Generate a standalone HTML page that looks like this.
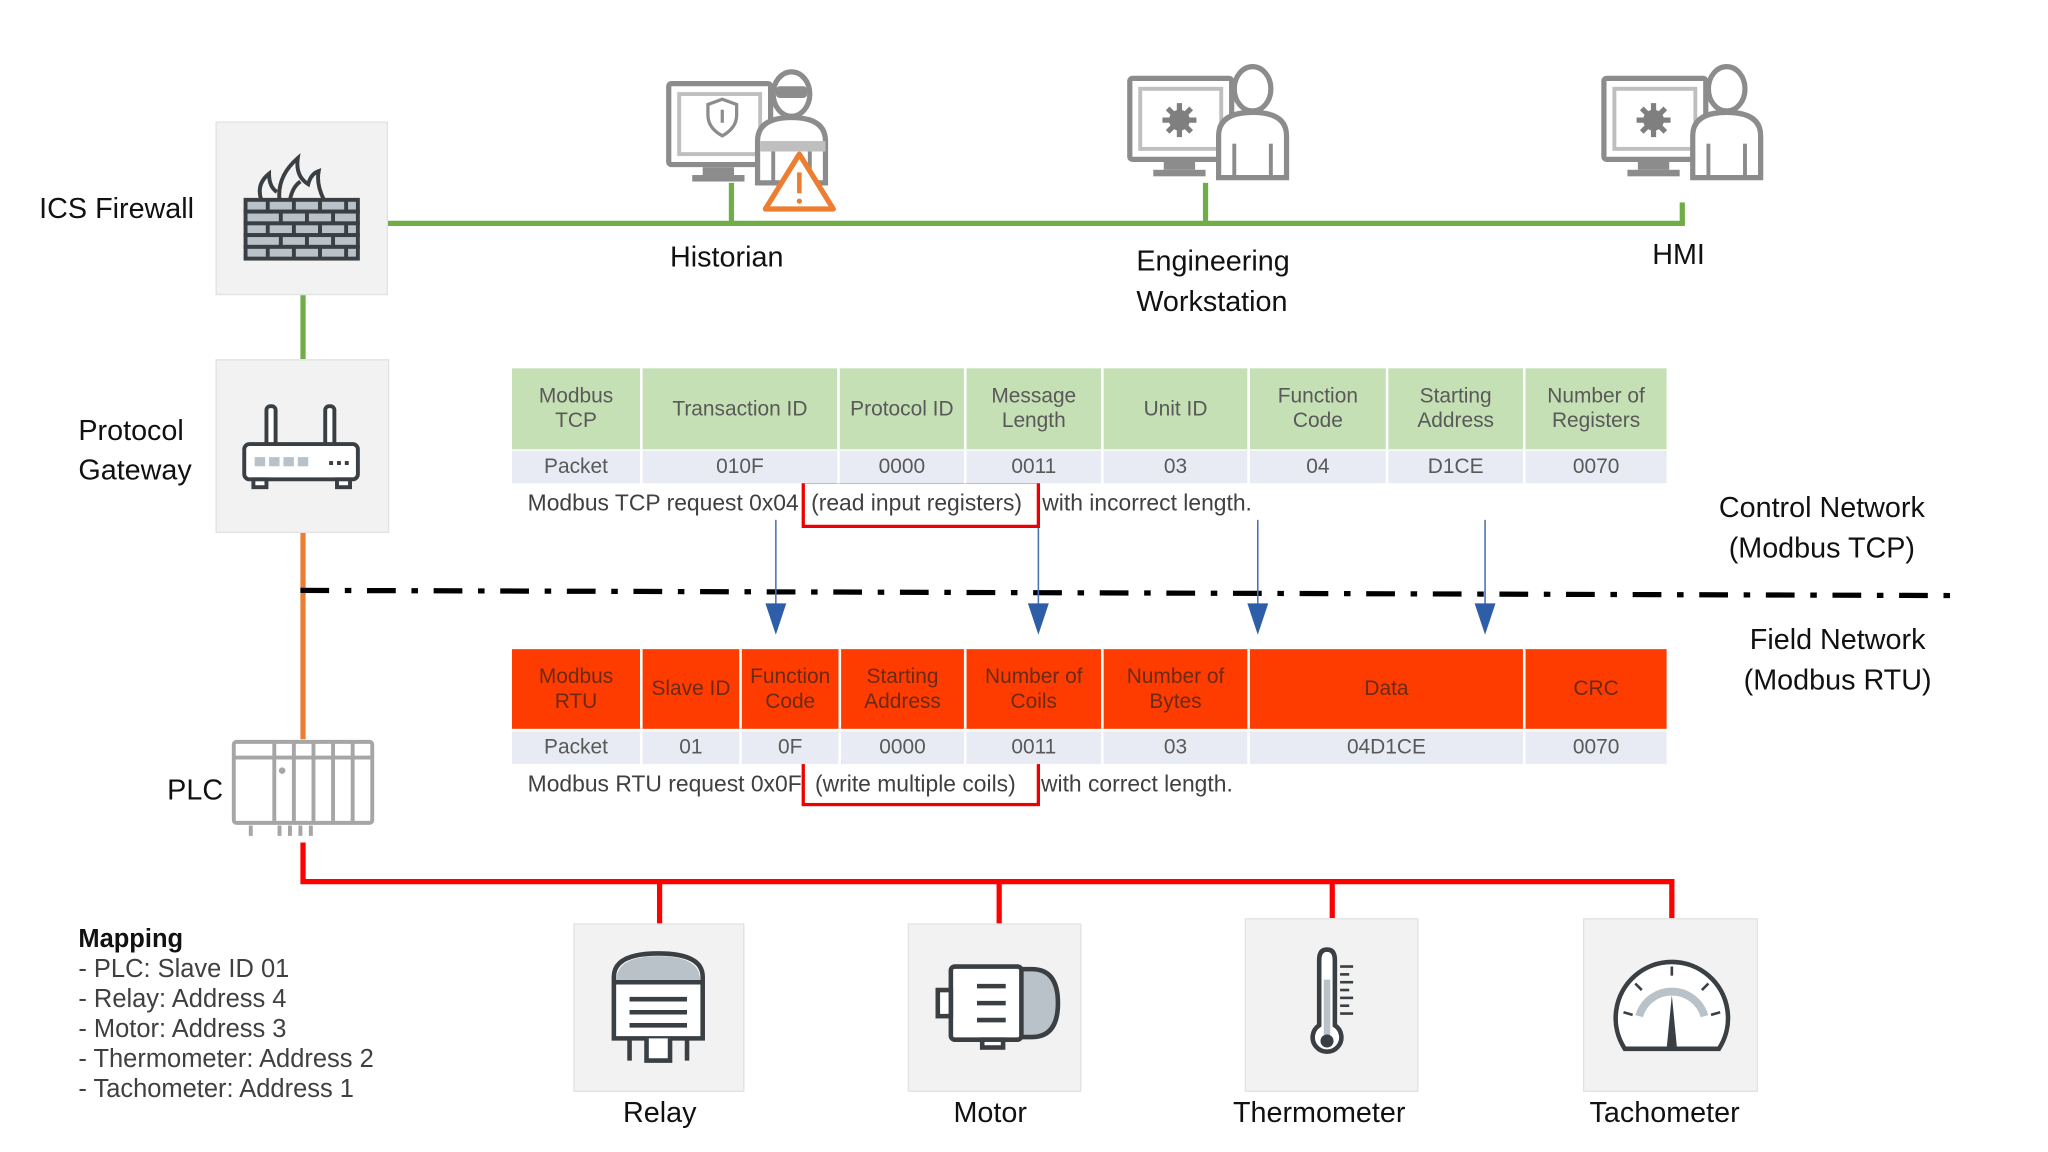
<!DOCTYPE html>
<html><head><meta charset="utf-8"><style>
html,body{margin:0;padding:0;background:#fff;width:2048px;height:1152px;overflow:hidden}
#s{position:absolute;left:0;top:0;width:1568px;height:882px;transform:scale(1.306122);transform-origin:0 0;font-family:"Liberation Sans","DejaVu Sans",sans-serif}
.t{position:absolute;white-space:nowrap}
.c{position:absolute;display:flex;align-items:center;justify-content:center;text-align:center;font-size:16px;line-height:19px;box-sizing:border-box;border-right:2px solid #fff}
.g{background:#c5e0b4;color:#595959}
.r{background:#ff3c00;color:#6a2a15}
.p{background:#e9ebf4;color:#595959}
.box{position:absolute;background:#f2f2f2;border:1px solid #e2e2e2;box-sizing:border-box}
.cap{position:absolute;white-space:nowrap;font-size:17.5px;color:#404040}
</style></head><body><div id="s">
<svg width="1568" height="882" style="position:absolute;left:0;top:0">
<g stroke="#70ad47" stroke-width="4" fill="none">
<line x1="297" y1="171" x2="1290" y2="171"/>
<line x1="560" y1="140" x2="560" y2="171"/>
<line x1="923" y1="140" x2="923" y2="171"/>
<line x1="1288" y1="155" x2="1288" y2="171"/>
<line x1="232" y1="225" x2="232" y2="275"/>
</g>
<line x1="232" y1="408" x2="232" y2="566" stroke="#ed7d31" stroke-width="4"/>
<g stroke="#ff0000" stroke-width="4" fill="none">
<polyline points="232,645 232,675 1280,675 1280,705"/>
<line x1="505" y1="675" x2="505" y2="707"/>
<line x1="765" y1="675" x2="765" y2="707"/>
<line x1="1020" y1="675" x2="1020" y2="703"/>
</g>
<line x1="230" y1="452" x2="1500" y2="456" stroke="#000" stroke-width="4" stroke-dasharray="22,12,5,12"/>
<g stroke="#4a72b8" stroke-width="1.2" fill="#2f5ea8">
<line x1="594" y1="398" x2="594" y2="465"/><polygon points="586,462 602,462 594,486" stroke="none"/>
<line x1="795" y1="398" x2="795" y2="465"/><polygon points="787,462 803,462 795,486" stroke="none"/>
<line x1="963" y1="398" x2="963" y2="465"/><polygon points="955,462 971,462 963,486" stroke="none"/>
<line x1="1137" y1="398" x2="1137" y2="465"/><polygon points="1129,462 1145,462 1137,486" stroke="none"/>
</g>
<rect x="615" y="369" width="180" height="34" fill="none" stroke="#e00" stroke-width="2.5"/>
<rect x="615" y="583" width="180" height="33" fill="none" stroke="#e00" stroke-width="2.5"/>
</svg>

<div class="box" style="left:165px;top:93px;width:132px;height:133px"></div>
<div class="box" style="left:165px;top:275px;width:133px;height:133px"></div>
<div class="box" style="left:439px;top:707px;width:131px;height:129px"></div>
<div class="box" style="left:695px;top:707px;width:133px;height:129px"></div>
<div class="box" style="left:953px;top:703px;width:133px;height:133px"></div>
<div class="box" style="left:1212px;top:703px;width:134px;height:133px"></div>

<svg width="1568" height="882" style="position:absolute;left:0;top:0">
<!-- firewall -->
<g stroke="#3a3f44" stroke-width="3" fill="none">
<path d="M200,153 q-4,-12 6,-20 q0,10 6,14 M214,153 q-2,-18 14,-32 q-2,14 8,20 q2,-8 8,-10 q-2,10 4,22 M222,153 q2,-10 8,-14"/>
<g fill="#b8c2c8">
<rect x="188" y="153" width="86" height="9"/><rect x="188" y="162" width="86" height="9"/><rect x="188" y="171" width="86" height="9"/><rect x="188" y="180" width="86" height="9"/><rect x="188" y="189" width="86" height="9"/>
</g>
<path d="M205,153v9 M225,153v9 M245,153v9 M265,153v9 M215,162v9 M235,162v9 M255,162v9 M205,171v9 M225,171v9 M245,171v9 M265,171v9 M215,180v9 M235,180v9 M255,180v9 M205,189v9 M225,189v9 M245,189v9 M265,189v9"/>
</g>
<!-- router -->
<g stroke="#3a3f44" stroke-width="3" fill="#fff">
<rect x="204" y="311" width="7" height="30" rx="3"/><rect x="249" y="311" width="7" height="30" rx="3"/>
<rect x="187" y="340" width="87" height="27" rx="4"/>
<rect x="194" y="367" width="10" height="6"/><rect x="258" y="367" width="10" height="6"/>
</g>
<g fill="#b8c2c8"><rect x="195" y="350" width="8" height="7"/><rect x="206" y="350" width="8" height="7"/><rect x="217" y="350" width="8" height="7"/><rect x="228" y="350" width="8" height="7"/></g>
<g fill="#3a3f44"><rect x="252" y="353" width="3" height="3"/><rect x="258" y="353" width="3" height="3"/><rect x="264" y="353" width="3" height="3"/></g>
<!-- PLC -->
<g stroke="#a6a6a6" stroke-width="3" fill="#fff">
<rect x="179" y="568" width="106" height="62" rx="2"/>
<line x1="179" y1="580" x2="285" y2="580"/>
<line x1="210" y1="568" x2="210" y2="630"/><line x1="225" y1="568" x2="225" y2="630"/><line x1="240" y1="568" x2="240" y2="630"/><line x1="255" y1="568" x2="255" y2="630"/><line x1="270" y1="568" x2="270" y2="630"/>
<path d="M192,632v8 M214,632v8 M222,632v8 M230,632v8 M238,632v8" />
</g>
<circle cx="216" cy="590" r="2.5" fill="#a6a6a6"/>
<defs>
<g id="ws">
<rect x="2" y="12" width="78" height="62" rx="2" fill="#fff" stroke="#8c8c8c" stroke-width="4"/>
<rect x="10" y="20" width="62" height="46" fill="none" stroke="#bfbfbf" stroke-width="3"/>
<rect x="28" y="76" width="24" height="6" fill="#8c8c8c"/><rect x="20" y="82" width="40" height="5" fill="#8c8c8c"/>
<path d="M70,88 V56 Q70,38 96,38 Q122,38 122,56 V88 Z" fill="#fff" stroke="#8c8c8c" stroke-width="4"/>
<line x1="82" y1="62" x2="82" y2="88" stroke="#8c8c8c" stroke-width="3"/><line x1="110" y1="62" x2="110" y2="88" stroke="#8c8c8c" stroke-width="3"/>
<ellipse cx="96" cy="20" rx="14" ry="17" fill="#fff" stroke="#8c8c8c" stroke-width="4"/>
</g>
<g id="gear"><circle r="8" fill="#7f7f7f"/><path d="M0,-13V13M-13,0H13M-9,-9L9,9M9,-9L-9,9" stroke="#7f7f7f" stroke-width="4"/></g>
</defs>
<use href="#ws" x="863" y="48"/>
<use href="#gear" x="903" y="92"/>
<use href="#ws" x="1226" y="48"/>
<use href="#gear" x="1266" y="92"/>
<!-- historian -->
<use href="#ws" x="510" y="52"/>
<rect x="594" y="66" width="24" height="9" rx="3" fill="#8c8c8c"/>
<rect x="582" y="108" width="50" height="8" fill="#bfbfbf"/>
<path d="M553,76 l11,4 v8 q0,10 -11,16 q-11,-6 -11,-16 v-8z" fill="none" stroke="#8c8c8c" stroke-width="2.5"/>
<line x1="553" y1="84" x2="553" y2="94" stroke="#8c8c8c" stroke-width="2.5"/>
<path d="M612,118 L638,160 L586,160 Z" fill="#fff" stroke="#ed7d31" stroke-width="4" stroke-linejoin="round"/>
<line x1="612" y1="132" x2="612" y2="148" stroke="#ed7d31" stroke-width="3.5"/><circle cx="612" cy="154" r="2" fill="#ed7d31"/>
<!-- relay -->
<g stroke="#3a3f44" stroke-width="3.5" fill="#fff">
<path d="M470,795 V748 Q470,730 504,730 Q538,730 538,748 V795 Z"/>
<path d="M472,750 Q472,732 504,732 Q536,732 536,750 Z" fill="#b8c2c8" stroke="none"/>
<line x1="470" y1="752" x2="538" y2="752"/>
<line x1="482" y1="765" x2="526" y2="765"/><line x1="482" y1="775" x2="526" y2="775"/><line x1="482" y1="785" x2="526" y2="785"/>
<path d="M482,795 v17 M526,795 v17 M495,795 v17 h18 v-17"/>
</g>
<!-- motor -->
<g stroke="#3a3f44" stroke-width="3.5" fill="#fff">
<path d="M780,742 h10 q20,0 20,26 q0,26 -20,26 h-10 z" fill="#b8c2c8"/>
<rect x="728" y="740" width="54" height="56" rx="3"/>
<rect x="718" y="758" width="10" height="20"/>
<line x1="748" y1="755" x2="770" y2="755"/><line x1="748" y1="768" x2="770" y2="768"/><line x1="748" y1="781" x2="770" y2="781"/>
<rect x="752" y="796" width="16" height="6"/>
</g>
<!-- thermometer -->
<g stroke="#3a3f44" stroke-width="3.5" fill="#fff">
<path d="M1010,735 q0,-8 6,-8 q6,0 6,8 v50 a11,11 0 1 1 -12,0 z"/>
</g>
<line x1="1016" y1="750" x2="1016" y2="795" stroke="#b8c2c8" stroke-width="5"/>
<circle cx="1016" cy="797" r="5" fill="#3a3f44"/>
<g stroke="#3a3f44" stroke-width="2"><line x1="1026" y1="740" x2="1036" y2="740"/><line x1="1026" y1="746" x2="1033" y2="746"/><line x1="1026" y1="752" x2="1036" y2="752"/><line x1="1026" y1="758" x2="1033" y2="758"/><line x1="1026" y1="764" x2="1036" y2="764"/><line x1="1026" y1="770" x2="1033" y2="770"/><line x1="1026" y1="776" x2="1036" y2="776"/></g>
<!-- tachometer -->
<g stroke="#3a3f44" stroke-width="3.5" fill="#fff">
<path d="M1244,803 A43,43 0 1 1 1316,803 Z"/>
</g>
<path d="M1255,778 A26,26 0 0 1 1305,778" fill="none" stroke="#b8c2c8" stroke-width="6"/>
<polygon points="1276,803 1284,803 1280,762" fill="#3a3f44"/>
<g stroke="#3a3f44" stroke-width="2"><line x1="1243" y1="775" x2="1250" y2="777"/><line x1="1252" y1="753" x2="1257" y2="758"/><line x1="1280" y1="740" x2="1280" y2="747"/><line x1="1308" y1="753" x2="1303" y2="758"/><line x1="1317" y1="775" x2="1310" y2="777"/></g>
</svg>

<div class="t" style="left:30px;top:147px;font-size:22px;color:#111">ICS Firewall</div>
<div class="t" style="left:60px;top:315px;font-size:22px;color:#111;line-height:30px">Protocol<br>Gateway</div>
<div class="t" style="left:128px;top:592px;font-size:22px;color:#111">PLC</div>
<div class="t" style="left:513px;top:184px;font-size:22px;color:#111">Historian</div>
<div class="t" style="left:870px;top:184px;font-size:22px;color:#111;line-height:31px">Engineering<br>Workstation</div>
<div class="t" style="left:1265px;top:182px;font-size:22px;color:#111">HMI</div>
<div class="t" style="left:1316px;top:373px;font-size:22px;color:#111;line-height:31px;text-align:center">Control Network<br>(Modbus TCP)</div>
<div class="t" style="left:1335px;top:474px;font-size:22px;color:#111;line-height:31px;text-align:center">Field Network<br>(Modbus RTU)</div>
<div class="t" style="left:477px;top:839px;font-size:22px;color:#111">Relay</div>
<div class="t" style="left:730px;top:839px;font-size:22px;color:#111">Motor</div>
<div class="t" style="left:944px;top:839px;font-size:22px;color:#111">Thermometer</div>
<div class="t" style="left:1217px;top:839px;font-size:22px;color:#111">Tachometer</div>
<div class="t" style="left:60px;top:708px;font-size:19.5px;color:#404040;line-height:23px"><b style="color:#111">Mapping</b><br>- PLC: Slave ID 01<br>- Relay: Address 4<br>- Motor: Address 3<br>- Thermometer: Address 2<br>- Tachometer: Address 1</div>

<div class="c g" style="left:392px;top:282px;width:100px;height:62px">Modbus<br>TCP</div>
<div class="c g" style="left:492px;top:282px;width:151px;height:62px">Transaction ID</div>
<div class="c g" style="left:643px;top:282px;width:97px;height:62px">Protocol ID</div>
<div class="c g" style="left:740px;top:282px;width:105px;height:62px">Message<br>Length</div>
<div class="c g" style="left:845px;top:282px;width:112px;height:62px">Unit ID</div>
<div class="c g" style="left:957px;top:282px;width:106px;height:62px">Function<br>Code</div>
<div class="c g" style="left:1063px;top:282px;width:105px;height:62px">Starting<br>Address</div>
<div class="c g" style="left:1168px;top:282px;width:108px;height:62px;border-right:0">Number of<br>Registers</div>
<div class="c p" style="left:392px;top:345px;width:100px;height:25px">Packet</div>
<div class="c p" style="left:492px;top:345px;width:151px;height:25px">010F</div>
<div class="c p" style="left:643px;top:345px;width:97px;height:25px">0000</div>
<div class="c p" style="left:740px;top:345px;width:105px;height:25px">0011</div>
<div class="c p" style="left:845px;top:345px;width:112px;height:25px">03</div>
<div class="c p" style="left:957px;top:345px;width:106px;height:25px">04</div>
<div class="c p" style="left:1063px;top:345px;width:105px;height:25px">D1CE</div>
<div class="c p" style="left:1168px;top:345px;width:108px;height:25px;border-right:0">0070</div>
<div class="cap" style="left:404px;top:375px">Modbus TCP request 0x04</div>
<div class="cap" style="left:621px;top:375px">(read input registers)</div>
<div class="cap" style="left:798px;top:375px">with incorrect length.</div>

<div class="c r" style="left:392px;top:497px;width:100px;height:61px">Modbus<br>RTU</div>
<div class="c r" style="left:492px;top:497px;width:76px;height:61px">Slave ID</div>
<div class="c r" style="left:568px;top:497px;width:76px;height:61px">Function<br>Code</div>
<div class="c r" style="left:644px;top:497px;width:96px;height:61px">Starting<br>Address</div>
<div class="c r" style="left:740px;top:497px;width:105px;height:61px">Number of<br>Coils</div>
<div class="c r" style="left:845px;top:497px;width:112px;height:61px">Number of<br>Bytes</div>
<div class="c r" style="left:957px;top:497px;width:211px;height:61px">Data</div>
<div class="c r" style="left:1168px;top:497px;width:108px;height:61px;border-right:0">CRC</div>
<div class="c p" style="left:392px;top:560px;width:100px;height:25px">Packet</div>
<div class="c p" style="left:492px;top:560px;width:76px;height:25px">01</div>
<div class="c p" style="left:568px;top:560px;width:76px;height:25px">0F</div>
<div class="c p" style="left:644px;top:560px;width:96px;height:25px">0000</div>
<div class="c p" style="left:740px;top:560px;width:105px;height:25px">0011</div>
<div class="c p" style="left:845px;top:560px;width:112px;height:25px">03</div>
<div class="c p" style="left:957px;top:560px;width:211px;height:25px">04D1CE</div>
<div class="c p" style="left:1168px;top:560px;width:108px;height:25px;border-right:0">0070</div>
<div class="cap" style="left:404px;top:590px">Modbus RTU request 0x0F</div>
<div class="cap" style="left:624px;top:590px">(write multiple coils)</div>
<div class="cap" style="left:797px;top:590px">with correct length.</div>
</div></body></html>
